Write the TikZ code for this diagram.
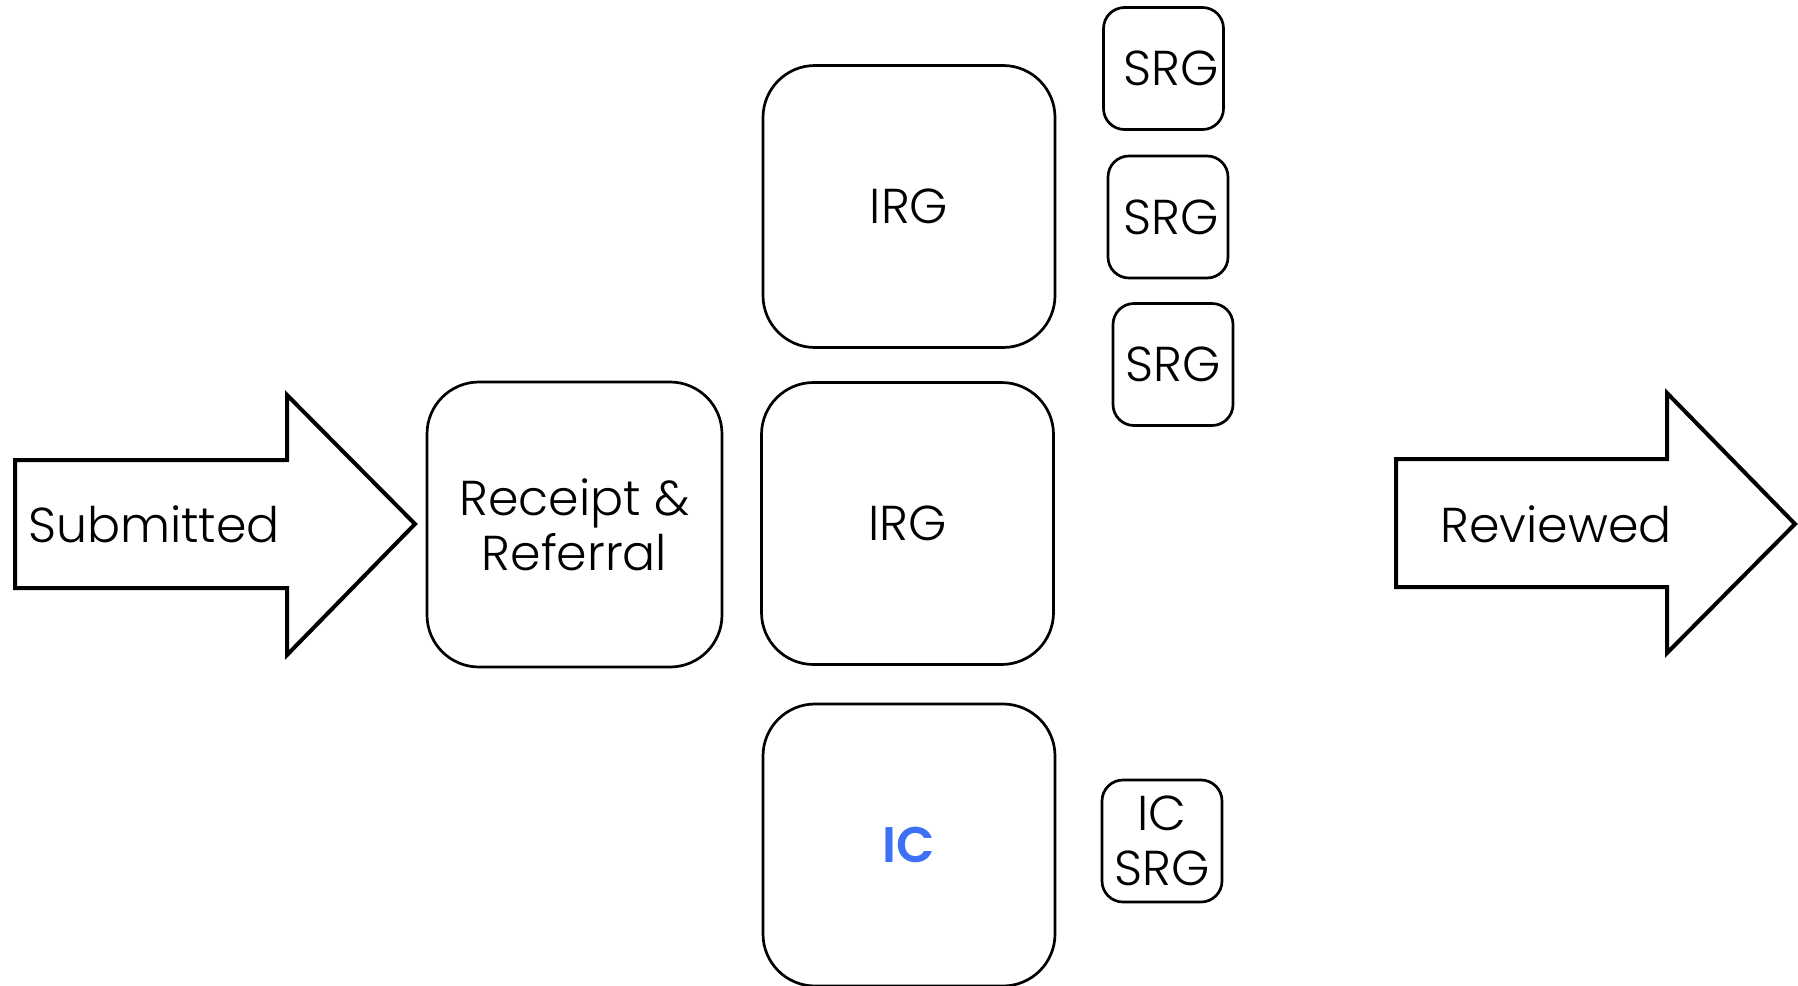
\documentclass[tikz,border=0pt]{standalone}
\usepackage{fontspec}
\setmainfont{Poppins}[UprightFont=* Light, BoldFont=* SemiBold]
\usepackage{tikz}
\usetikzlibrary{positioning}
\definecolor{icblue}{RGB}{61,112,245}

\begin{document}
\begin{tikzpicture}[
  x=0.5pt, y=-0.5pt,
  font=\fontsize{24.5}{27.5}\selectfont,
  bigbox/.style={draw, rounded corners=26pt, line width=1.35pt, align=center, inner sep=0pt, minimum width=146pt, minimum height=141pt},
  srgbox/.style={draw, rounded corners=10.5pt, line width=1.35pt, align=center, inner sep=0pt, minimum width=60pt, minimum height=61pt},
  fatarrow/.style={draw, line width=2pt, line join=miter},
  lbl/.style={inner sep=0pt, align=center}
]
\useasboundingbox (0,0) rectangle (1798,985);

% in and out arrows
\draw[fatarrow] (15,460) -- (287,460) -- (287,395) -- (415,524) -- (287,655) -- (287,588) -- (15,588) -- cycle;
\node[lbl] (sub) at (154,524) {Submitted};
\draw[fatarrow] (1396,459) -- (1667,459) -- (1667,393) -- (1795,524) -- (1667,653) -- (1667,587) -- (1396,587) -- cycle;
\node[lbl] (rev) at (1556,524) {Reviewed};

% review boxes
\node[bigbox, minimum width=147.5pt, minimum height=142.5pt] (recv) at (574.5,524.5) {Receipt \&\\Referral};
\node[bigbox] (irga) at (909,206.5) {IRG};
\node[bigbox] (irgb) at (907.5,523.5) {IRG};
\node[bigbox, font=\fontsize{25}{27.5}\selectfont\bfseries, text=icblue] (ic) at (909,845) {IC};

% study sections
\node[srgbox] (srga) at (1163.5,68.5) {\hspace*{8pt}SRG};
\node[srgbox] (srgb) at (1168,217) {\hspace*{3pt}SRG};
\node[srgbox] (srgc) at (1173,364.5) {SRG};
\node[srgbox] (icsrg) at (1162,841) {IC\\SRG};
\end{tikzpicture}
\end{document}
